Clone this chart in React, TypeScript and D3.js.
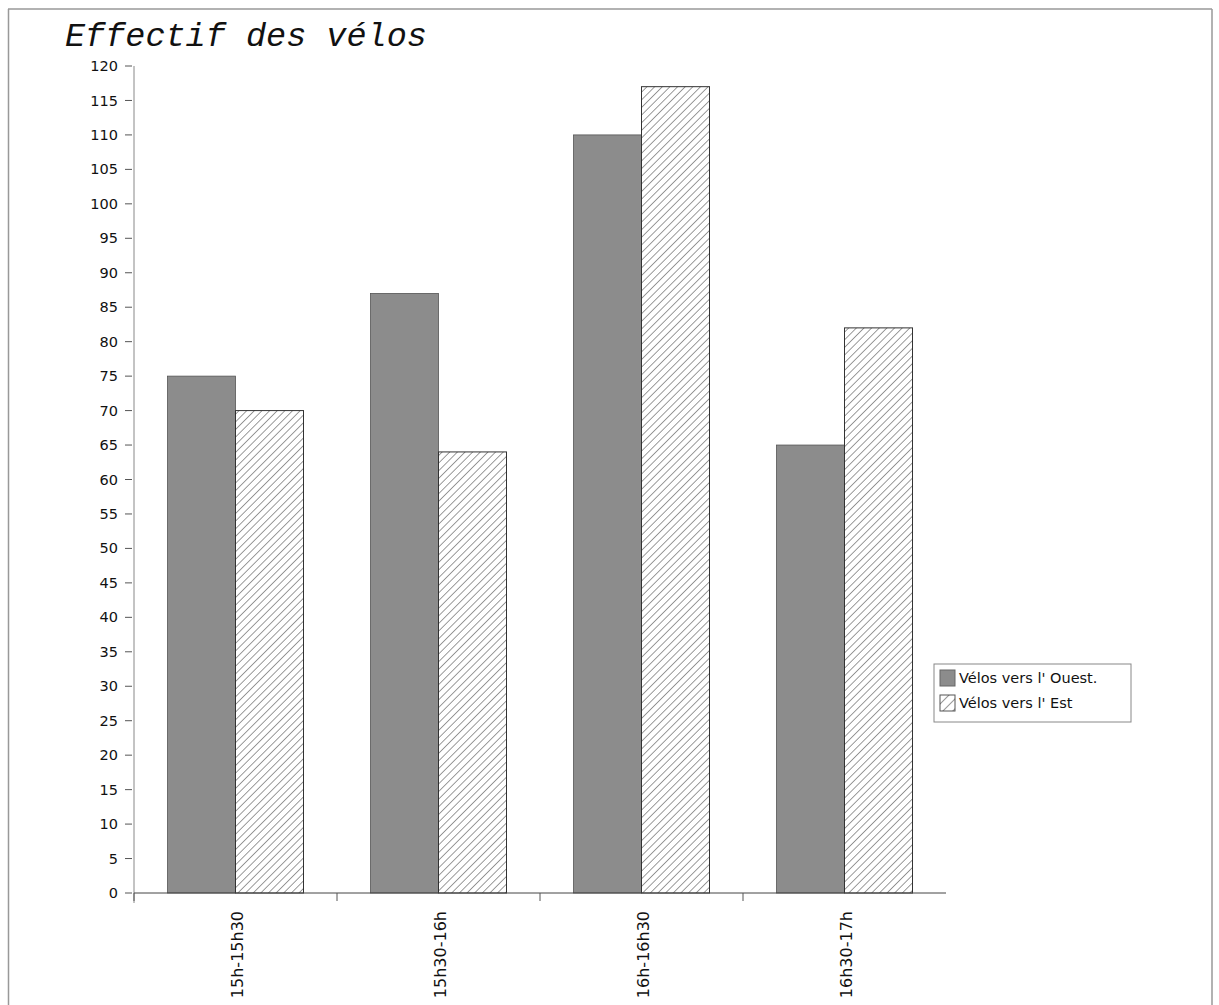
import React from "react";
import * as d3 from "d3";

const categories = ["15h-15h30", "15h30-16h", "16h-16h30", "16h30-17h"];
const ouest = [75, 87, 110, 65];
const est = [70, 64, 117, 82];
const seriesNames = ["Vélos vers l' Ouest.", "Vélos vers l' Est"];
const yTicks = d3.range(0, 121, 5);
const title = "Effectif des vélos";

export default function App() {
  const W = 1219, H = 1005;
  const x0 = 134, x1 = 946, yTop = 66, yBot = 893;
  const x = d3.scaleBand().domain(categories).range([x0, x1]).paddingInner(0).paddingOuter(0);
  const y = d3.scaleLinear().domain([0, 120]).range([yBot, yTop]);
  const bw = 68;
  const font = "'DejaVu Sans', sans-serif";
  return (
    <svg width={W} height={H} style={{ position: "absolute", left: 0, top: 0, background: "#fff" }}>
      <defs>
        <pattern id="hatch" patternUnits="userSpaceOnUse" width="5.4" height="5.4" patternTransform="rotate(45)">
          <line x1="0" y1="0" x2="0" y2="5.4" stroke="#222" strokeWidth="0.9" />
        </pattern>
        <pattern id="hatchL" patternUnits="userSpaceOnUse" width="7" height="7" patternTransform="rotate(45)">
          <line x1="0" y1="0" x2="0" y2="7" stroke="#333" strokeWidth="1" />
        </pattern>
      </defs>
      <rect x={0} y={0} width={W} height={H} fill="#fff" />
      {/* frame */}
      <line x1={8} y1={9} x2={1212} y2={9} stroke="#999" strokeWidth={1.5} />
      <line x1={8.5} y1={9} x2={8.5} y2={H} stroke="#999" strokeWidth={1.5} />
      <line x1={1212} y1={9} x2={1212} y2={H} stroke="#999" strokeWidth={1.5} />
      <text x={65} y={46} fontFamily="'Liberation Mono', monospace" fontStyle="italic" fontSize={33.5} fill="#111">{title}</text>
      {/* y axis */}
      <line x1={x0} y1={yTop} x2={x0} y2={yBot + 10} stroke="#888" strokeWidth={1} />
      {yTicks.map(t => (
        <g key={t}>
          <line x1={x0 - 9} x2={x0 - 2} y1={y(t)} y2={y(t)} stroke="#555" />
          <text x={x0 - 16} y={y(t)} dy="0.35em" textAnchor="end" fontFamily={font} fontSize={14.5} fill="#111">{t}</text>
        </g>
      ))}
      {/* bars */}
      {categories.map((c, i) => {
        const cx = (x(c) as number) + x.bandwidth() / 2;
        return (
          <g key={c}>
            <rect x={cx - bw} y={y(ouest[i])} width={bw} height={yBot - y(ouest[i])} fill="#8c8c8c" stroke="#555" strokeWidth={0.8} />
            <rect x={cx} y={y(est[i])} width={bw} height={yBot - y(est[i])} fill="#fff" stroke="#333" strokeWidth={1} />
            <rect x={cx} y={y(est[i])} width={bw} height={yBot - y(est[i])} fill="url(#hatch)" />
          </g>
        );
      })}
      {/* x axis */}
      <line x1={x0} y1={yBot} x2={x1} y2={yBot} stroke="#444" strokeWidth={1} />
      {categories.map((c, i) => (
        <line key={"t" + i} x1={x(c) as number} x2={x(c) as number} y1={yBot} y2={yBot + 8} stroke="#555" />
      ))}
      {categories.map(c => {
        const cx = (x(c) as number) + x.bandwidth() / 2;
        return (
          <text key={"l" + c} transform={`translate(${cx + 7},${yBot + 18}) rotate(-90)`} textAnchor="end" fontFamily={font} fontSize={16} fill="#111">{c}</text>
        );
      })}
      {/* legend */}
      <rect x={934} y={664} width={197} height={58} fill="#fff" stroke="#888" strokeWidth={1} />
      <rect x={940} y={670} width={15} height={16} fill="#8c8c8c" stroke="#666" />
      <rect x={940} y={695} width={15} height={16} fill="#fff" stroke="#555" />
      <rect x={940} y={695} width={15} height={16} fill="url(#hatchL)" />
      <text x={959} y={683} fontFamily={font} fontSize={14.5} fill="#111">{seriesNames[0]}</text>
      <text x={959} y={708} fontFamily={font} fontSize={14.5} fill="#111">{seriesNames[1]}</text>
    </svg>
  );
}
